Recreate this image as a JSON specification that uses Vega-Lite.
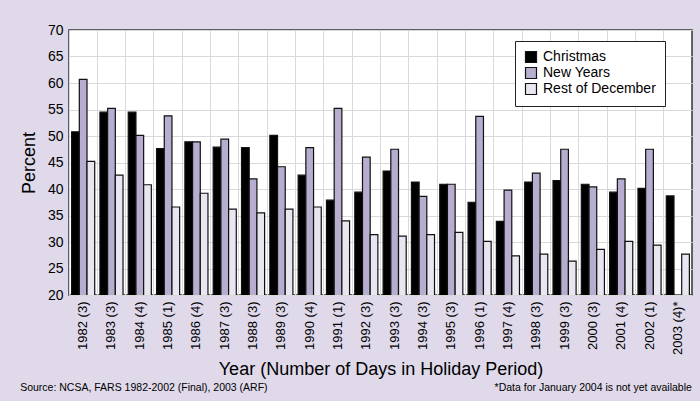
{
  "$schema": "https://vega.github.io/schema/vega-lite/v6.json",
  "autosize": {"type": "none"},
  "width": 623,
  "height": 265,
  "padding": {"left": 69, "top": 30, "right": 8, "bottom": 106},
  "background": "#dfd9ea",
  "datasets": {
    "rows": [
      {"year": "1982 (3)", "series": "Christmas", "pct": 50.8},
      {"year": "1982 (3)", "series": "New Years", "pct": 60.7},
      {"year": "1982 (3)", "series": "Rest of December", "pct": 45.2},
      {"year": "1983 (3)", "series": "Christmas", "pct": 54.5},
      {"year": "1983 (3)", "series": "New Years", "pct": 55.2},
      {"year": "1983 (3)", "series": "Rest of December", "pct": 42.6},
      {"year": "1984 (4)", "series": "Christmas", "pct": 54.5},
      {"year": "1984 (4)", "series": "New Years", "pct": 50.1},
      {"year": "1984 (4)", "series": "Rest of December", "pct": 40.8},
      {"year": "1985 (1)", "series": "Christmas", "pct": 47.6},
      {"year": "1985 (1)", "series": "New Years", "pct": 53.8},
      {"year": "1985 (1)", "series": "Rest of December", "pct": 36.6},
      {"year": "1986 (4)", "series": "Christmas", "pct": 48.9},
      {"year": "1986 (4)", "series": "New Years", "pct": 48.9},
      {"year": "1986 (4)", "series": "Rest of December", "pct": 39.2},
      {"year": "1987 (3)", "series": "Christmas", "pct": 47.9},
      {"year": "1987 (3)", "series": "New Years", "pct": 49.4},
      {"year": "1987 (3)", "series": "Rest of December", "pct": 36.2},
      {"year": "1988 (3)", "series": "Christmas", "pct": 47.8},
      {"year": "1988 (3)", "series": "New Years", "pct": 41.9},
      {"year": "1988 (3)", "series": "Rest of December", "pct": 35.5},
      {"year": "1989 (3)", "series": "Christmas", "pct": 50.1},
      {"year": "1989 (3)", "series": "New Years", "pct": 44.2},
      {"year": "1989 (3)", "series": "Rest of December", "pct": 36.2},
      {"year": "1990 (4)", "series": "Christmas", "pct": 42.6},
      {"year": "1990 (4)", "series": "New Years", "pct": 47.8},
      {"year": "1990 (4)", "series": "Rest of December", "pct": 36.6},
      {"year": "1991 (1)", "series": "Christmas", "pct": 37.9},
      {"year": "1991 (1)", "series": "New Years", "pct": 55.2},
      {"year": "1991 (1)", "series": "Rest of December", "pct": 34.0},
      {"year": "1992 (3)", "series": "Christmas", "pct": 39.4},
      {"year": "1992 (3)", "series": "New Years", "pct": 46.0},
      {"year": "1992 (3)", "series": "Rest of December", "pct": 31.4},
      {"year": "1993 (3)", "series": "Christmas", "pct": 43.4},
      {"year": "1993 (3)", "series": "New Years", "pct": 47.5},
      {"year": "1993 (3)", "series": "Rest of December", "pct": 31.1},
      {"year": "1994 (3)", "series": "Christmas", "pct": 41.3},
      {"year": "1994 (3)", "series": "New Years", "pct": 38.6},
      {"year": "1994 (3)", "series": "Rest of December", "pct": 31.4},
      {"year": "1995 (3)", "series": "Christmas", "pct": 40.9},
      {"year": "1995 (3)", "series": "New Years", "pct": 40.9},
      {"year": "1995 (3)", "series": "Rest of December", "pct": 31.8},
      {"year": "1996 (1)", "series": "Christmas", "pct": 37.5},
      {"year": "1996 (1)", "series": "New Years", "pct": 53.7},
      {"year": "1996 (1)", "series": "Rest of December", "pct": 30.1},
      {"year": "1997 (4)", "series": "Christmas", "pct": 33.9},
      {"year": "1997 (4)", "series": "New Years", "pct": 39.8},
      {"year": "1997 (4)", "series": "Rest of December", "pct": 27.4},
      {"year": "1998 (3)", "series": "Christmas", "pct": 41.3},
      {"year": "1998 (3)", "series": "New Years", "pct": 43.0},
      {"year": "1998 (3)", "series": "Rest of December", "pct": 27.7},
      {"year": "1999 (3)", "series": "Christmas", "pct": 41.6},
      {"year": "1999 (3)", "series": "New Years", "pct": 47.5},
      {"year": "1999 (3)", "series": "Rest of December", "pct": 26.4},
      {"year": "2000 (3)", "series": "Christmas", "pct": 40.9},
      {"year": "2000 (3)", "series": "New Years", "pct": 40.4},
      {"year": "2000 (3)", "series": "Rest of December", "pct": 28.6},
      {"year": "2001 (4)", "series": "Christmas", "pct": 39.4},
      {"year": "2001 (4)", "series": "New Years", "pct": 41.9},
      {"year": "2001 (4)", "series": "Rest of December", "pct": 30.1},
      {"year": "2002 (1)", "series": "Christmas", "pct": 40.1},
      {"year": "2002 (1)", "series": "New Years", "pct": 47.5},
      {"year": "2002 (1)", "series": "Rest of December", "pct": 29.4},
      {"year": "2003 (4)*", "series": "Christmas", "pct": 38.7},
      {"year": "2003 (4)*", "series": "Rest of December", "pct": 27.7}
    ],
    "source": [
      {"note": "Source: NCSA, FARS 1982-2002 (Final), 2003 (ARF)"}
    ],
    "footnote": [
      {"note": "*Data for January 2004 is not yet available"}
    ]
  },
  "layer": [
    {
      "data": {"name": "rows"},
      "mark": {"type": "bar", "stroke": "#111", "strokeWidth": 1.2, "clip": true},
      "encoding": {
        "x": {
          "field": "year",
          "type": "nominal",
          "sort": null,
          "scale": {"paddingInner": 0, "paddingOuter": 0},
          "axis": {
            "title": "Year (Number of Days in Holiday Period)",
            "titleFontSize": 18,
            "titlePadding": 6,
            "labelAngle": -90,
            "labelFontSize": 13,
            "labelPadding": 6,
            "ticks": false,
            "domain": false,
            "grid": true,
            "bandPosition": 0
          }
        },
        "xOffset": {
          "field": "series",
          "type": "nominal",
          "sort": ["Christmas", "New Years", "Rest of December"],
          "scale": {"paddingOuter": 0.34, "paddingInner": 0}
        },
        "y": {
          "field": "pct",
          "type": "quantitative",
          "scale": {"domain": [20, 70], "zero": false, "nice": false},
          "axis": {
            "title": "Percent",
            "titleFontSize": 18,
            "titlePadding": 9,
            "values": [20, 25, 30, 35, 40, 45, 50, 55, 60, 65, 70],
            "labelFontSize": 14,
            "labelPadding": 6,
            "labelOverlap": false,
            "ticks": false,
            "domain": false,
            "grid": true
          }
        },
        "color": {
          "field": "series",
          "type": "nominal",
          "scale": {
            "domain": ["Christmas", "New Years", "Rest of December"],
            "range": ["#000000", "#b7aecf", "#e9e6f1"]
          },
          "legend": {
            "title": null,
            "orient": "none",
            "legendX": 446,
            "legendY": 11,
            "fillColor": "white",
            "strokeColor": "#222",
            "padding": 9,
            "symbolType": "square",
            "symbolSize": 121,
            "symbolStrokeColor": "#111",
            "symbolStrokeWidth": 1.2,
            "labelFontSize": 14,
            "labelOffset": 5,
            "rowPadding": 0
          }
        }
      }
    },
    {
      "data": {"name": "source"},
      "mark": {
        "type": "text",
        "align": "left",
        "baseline": "middle",
        "fontSize": 10.5,
        "font": "Liberation Sans",
        "color": "black",
        "dx": -63,
        "dy": 93
      },
      "encoding": {
        "x": {
          "datum": "1982 (3)",
          "type": "nominal",
          "axis": {
            "title": "Year (Number of Days in Holiday Period)",
            "titleFontSize": 18,
            "titlePadding": 6,
            "labelAngle": -90,
            "labelFontSize": 13,
            "labelPadding": 6,
            "ticks": false,
            "domain": false,
            "grid": true,
            "bandPosition": 0
          }
        },
        "y": {
          "datum": 20,
          "type": "quantitative",
          "axis": {
            "title": "Percent",
            "titleFontSize": 18,
            "titlePadding": 9,
            "values": [20, 25, 30, 35, 40, 45, 50, 55, 60, 65, 70],
            "labelFontSize": 14,
            "labelPadding": 6,
            "labelOverlap": false,
            "ticks": false,
            "domain": false,
            "grid": true
          }
        },
        "text": {"field": "note"}
      }
    },
    {
      "data": {"name": "footnote"},
      "mark": {
        "type": "text",
        "align": "right",
        "baseline": "middle",
        "fontSize": 10.5,
        "font": "Liberation Sans",
        "color": "black",
        "dx": 14,
        "dy": 93
      },
      "encoding": {
        "x": {
          "datum": "2003 (4)*",
          "type": "nominal",
          "axis": {
            "title": "Year (Number of Days in Holiday Period)",
            "titleFontSize": 18,
            "titlePadding": 6,
            "labelAngle": -90,
            "labelFontSize": 13,
            "labelPadding": 6,
            "ticks": false,
            "domain": false,
            "grid": true,
            "bandPosition": 0
          }
        },
        "y": {
          "datum": 20,
          "type": "quantitative",
          "axis": {
            "title": "Percent",
            "titleFontSize": 18,
            "titlePadding": 9,
            "values": [20, 25, 30, 35, 40, 45, 50, 55, 60, 65, 70],
            "labelFontSize": 14,
            "labelPadding": 6,
            "labelOverlap": false,
            "ticks": false,
            "domain": false,
            "grid": true
          }
        },
        "text": {"field": "note"}
      }
    }
  ],
  "config": {
    "font": "Liberation Sans",
    "view": {"fill": "white", "stroke": "#333", "strokeWidth": 1.5},
    "axis": {
      "labelFont": "Liberation Sans",
      "titleFont": "Liberation Sans",
      "labelColor": "black",
      "titleColor": "black",
      "titleFontWeight": "normal",
      "gridColor": "#d9d9d9",
      "gridWidth": 1
    },
    "legend": {
      "labelFont": "Liberation Sans",
      "labelColor": "black"
    }
  }
}
